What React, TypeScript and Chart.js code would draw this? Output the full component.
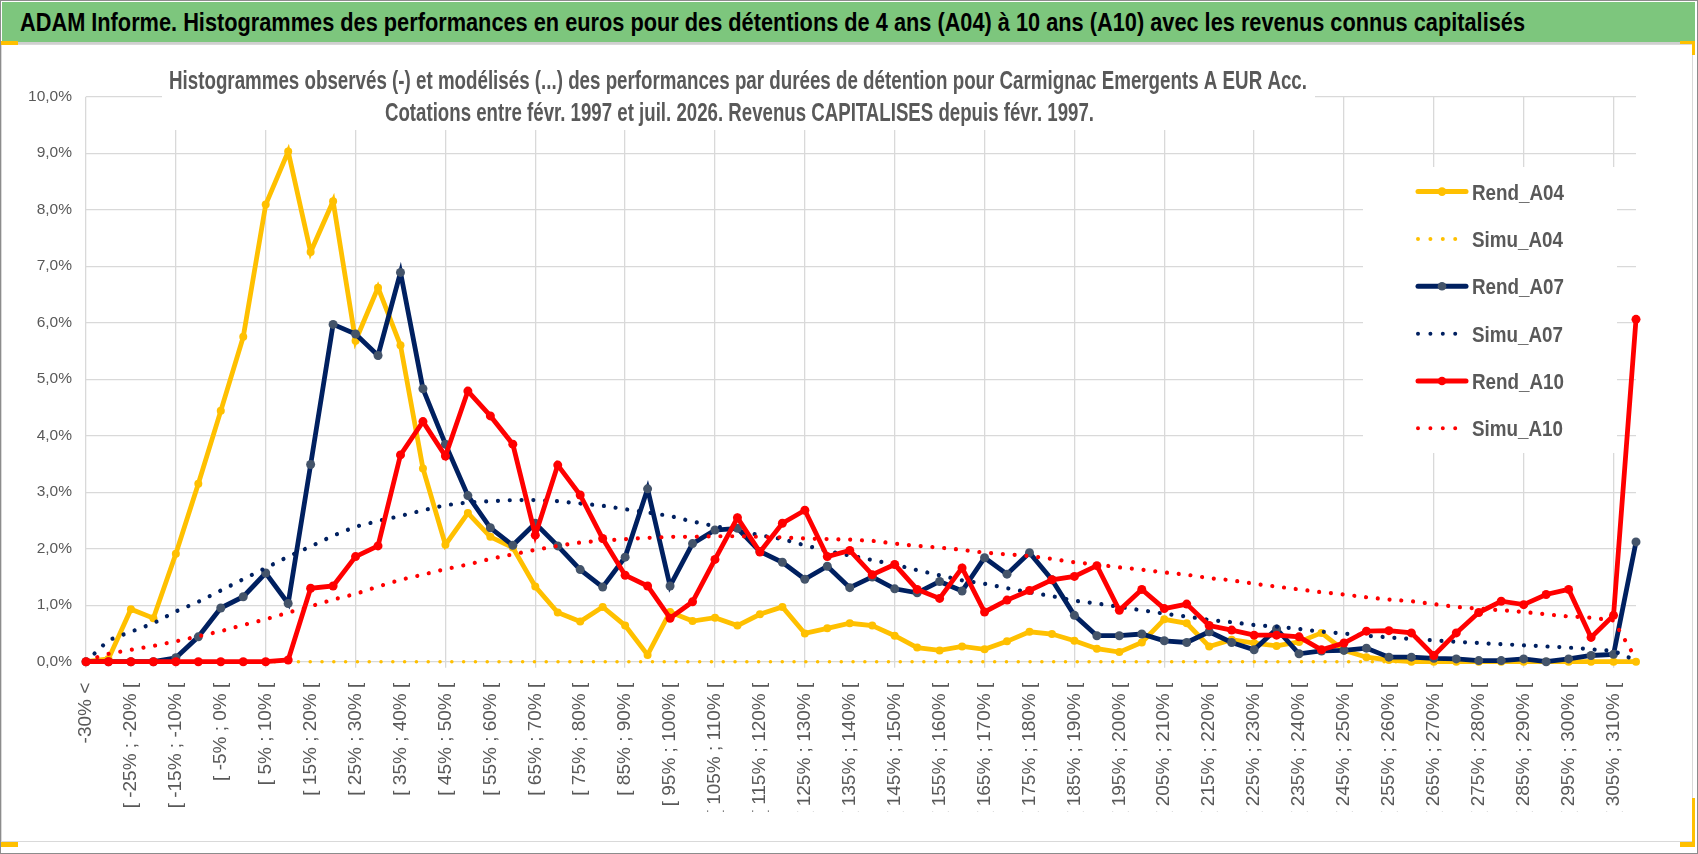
import React, { useEffect, useRef } from "react";
import { Chart, registerables } from "chart.js";

Chart.register(...registerables);

const categories: string[] = [
  "-30% <",
  "[ -30% ; -25% [", "[ -25% ; -20% [", "[ -20% ; -15% [", "[ -15% ; -10% [", "[ -10% ; -5% [",
  "[ -5% ; 0% [", "[ 0% ; 5% [", "[ 5% ; 10% [", "[ 10% ; 15% [", "[ 15% ; 20% [",
  "[ 20% ; 25% [", "[ 25% ; 30% [", "[ 30% ; 35% [", "[ 35% ; 40% [", "[ 40% ; 45% [",
  "[ 45% ; 50% [", "[ 50% ; 55% [", "[ 55% ; 60% [", "[ 60% ; 65% [", "[ 65% ; 70% [",
  "[ 70% ; 75% [", "[ 75% ; 80% [", "[ 80% ; 85% [", "[ 85% ; 90% [", "[ 90% ; 95% [",
  "[ 95% ; 100% [", "[ 100% ; 105% [", "[ 105% ; 110% [", "[ 110% ; 115% [", "[ 115% ; 120% [",
  "[ 120% ; 125% [", "[ 125% ; 130% [", "[ 130% ; 135% [", "[ 135% ; 140% [", "[ 140% ; 145% [",
  "[ 145% ; 150% [", "[ 150% ; 155% [", "[ 155% ; 160% [", "[ 160% ; 165% [", "[ 165% ; 170% [",
  "[ 170% ; 175% [", "[ 175% ; 180% [", "[ 180% ; 185% [", "[ 185% ; 190% [", "[ 190% ; 195% [",
  "[ 195% ; 200% [", "[ 200% ; 205% [", "[ 205% ; 210% [", "[ 210% ; 215% [", "[ 215% ; 220% [",
  "[ 220% ; 225% [", "[ 225% ; 230% [", "[ 230% ; 235% [", "[ 235% ; 240% [", "[ 240% ; 245% [",
  "[ 245% ; 250% [", "[ 250% ; 255% [", "[ 255% ; 260% [", "[ 260% ; 265% [", "[ 265% ; 270% [",
  "[ 270% ; 275% [", "[ 275% ; 280% [", "[ 280% ; 285% [", "[ 285% ; 290% [", "[ 290% ; 295% [",
  "[ 295% ; 300% [", "[ 300% ; 305% [", "[ 305% ; 310% [",
  "310% >",
];

const rendA04: number[] = [
  0, 0.05, 0.93, 0.77, 1.91, 3.15, 4.44, 5.75, 8.09, 9.03,
  7.25, 8.15, 5.68, 6.62, 5.6, 3.42, 2.07, 2.63, 2.21, 2.02,
  1.33, 0.87, 0.71, 0.97, 0.64, 0.12, 0.88, 0.72, 0.78, 0.64,
  0.84, 0.97, 0.5, 0.59, 0.68, 0.64, 0.46, 0.25, 0.2, 0.27,
  0.22, 0.36, 0.53, 0.49, 0.37, 0.23, 0.17, 0.34, 0.75, 0.68,
  0.27, 0.39, 0.33, 0.28, 0.35, 0.51, 0.2, 0.08, 0.03, 0,
  0, 0, 0, 0, 0, 0, 0, 0, 0, 0,
];

const simuA04: number[] = [
  0, 0, 0, 0, 0, 0, 0, 0, 0, 0,
  0, 0, 0, 0, 0, 0, 0, 0, 0, 0,
  0, 0, 0, 0, 0, 0, 0, 0, 0, 0,
  0, 0, 0, 0, 0, 0, 0, 0, 0, 0,
  0, 0, 0, 0, 0, 0, 0, 0, 0, 0,
  0, 0, 0, 0, 0, 0, 0, 0, 0, 0,
  0, 0, 0, 0, 0, 0, 0, 0, 0, 0,
];

const rendA07: number[] = [
  0, 0, 0, 0, 0.07, 0.44, 0.95, 1.15, 1.57, 1.03,
  3.49, 5.97, 5.8, 5.42, 6.89, 4.83, 3.85, 2.94, 2.37, 2.06,
  2.45, 2.05, 1.63, 1.32, 1.85, 3.06, 1.34, 2.09, 2.33, 2.36,
  1.95, 1.76, 1.46, 1.69, 1.31, 1.5, 1.29, 1.22, 1.42, 1.25,
  1.84, 1.55, 1.93, 1.45, 0.82, 0.46, 0.46, 0.49, 0.37, 0.34,
  0.53, 0.34, 0.21, 0.58, 0.14, 0.19, 0.2, 0.24, 0.08, 0.08,
  0.06, 0.05, 0.02, 0.02, 0.05, 0.0, 0.05, 0.11, 0.13, 2.12,
];

const simuA07: number[] = [
  0, 0.38, 0.53, 0.68, 0.89, 1.06, 1.26, 1.46, 1.66, 1.86,
  2.04, 2.23, 2.39, 2.49, 2.58, 2.68, 2.77, 2.82, 2.84, 2.86,
  2.86, 2.84, 2.8, 2.76, 2.7, 2.64, 2.58, 2.48, 2.4, 2.32,
  2.24, 2.17, 2.06, 1.96, 1.88, 1.8, 1.72, 1.62, 1.53, 1.44,
  1.38, 1.3, 1.23, 1.16, 1.08, 1.03, 0.97, 0.91, 0.85, 0.8,
  0.74, 0.7, 0.65, 0.62, 0.58, 0.53, 0.5, 0.46, 0.43, 0.4,
  0.38, 0.35, 0.33, 0.31, 0.29, 0.27, 0.25, 0.22, 0.19, 0.02,
];

const rendA10: number[] = [
  0, 0, 0, 0, 0, 0, 0, 0, 0, 0.03,
  1.3, 1.34, 1.86, 2.05, 3.66, 4.25, 3.64, 4.79, 4.35, 3.85,
  2.24, 3.48, 2.95, 2.18, 1.53, 1.34, 0.77, 1.06, 1.81, 2.55,
  1.94, 2.45, 2.68, 1.86, 1.97, 1.54, 1.72, 1.28, 1.12, 1.66,
  0.88, 1.09, 1.26, 1.45, 1.51, 1.7, 0.91, 1.28, 0.94, 1.02,
  0.64, 0.56, 0.47, 0.47, 0.44, 0.21, 0.33, 0.54, 0.55, 0.51,
  0.11, 0.51, 0.87, 1.07, 1.01, 1.19, 1.28, 0.43, 0.82, 6.06,
];

const simuA10: number[] = [
  0.02, 0.14, 0.21, 0.28, 0.36, 0.45, 0.54, 0.65, 0.75, 0.87,
  0.98, 1.1, 1.2, 1.33, 1.45, 1.54, 1.64, 1.72, 1.82, 1.9,
  1.98, 2.05, 2.11, 2.14, 2.17, 2.19, 2.21, 2.21, 2.22, 2.22,
  2.21, 2.2, 2.18, 2.17, 2.16, 2.14, 2.09, 2.05, 2.02, 1.98,
  1.93, 1.9, 1.87, 1.82, 1.76, 1.72, 1.67, 1.63, 1.58, 1.54,
  1.48, 1.44, 1.38, 1.33, 1.28, 1.23, 1.19, 1.14, 1.1, 1.07,
  1.02, 0.97, 0.94, 0.91, 0.88, 0.84, 0.8, 0.78, 0.73, 0.05,
];

const seriesNames = ["Rend_A04", "Simu_A04", "Rend_A07", "Simu_A07", "Rend_A10", "Simu_A10"];

const mainTitle =
  "ADAM Informe. Histogrammes des performances en euros pour des détentions de 4 ans (A04) à 10 ans (A10) avec les revenus connus capitalisés";
const subTitle1 =
  "Histogrammes observés (-) et modélisés (...) des performances par durées de détention pour Carmignac Emergents A EUR Acc.";
const subTitle2 = "Cotations entre févr. 1997 et juil. 2026. Revenus CAPITALISES depuis févr. 1997.";

const YELLOW = "#FFC000";
const NAVY = "#002060";
const NAVY_MARK = "#44546A";
const RED = "#FF0000";
const GRID = "#D9D9D9";
const TXT = "#595959";
const FONT = '"Liberation Sans", Arial, sans-serif';
const DOT_DASH = [0.001, 11.8];

function fitText(ctx: CanvasRenderingContext2D, text: string, x: number, y: number, sx: number) {
  ctx.save();
  ctx.translate(x, y);
  ctx.scale(sx, 1);
  ctx.fillText(text, 0, 0);
  ctx.restore();
}

const overlayPlugin = {
  id: "overlayBoxes",
  beforeDatasetsDraw(chart: any) {
    const ctx: CanvasRenderingContext2D = chart.ctx;
    ctx.save();
    // chart title box (covers the grid like the source's title frame)
    ctx.fillStyle = "#ffffff";
    ctx.fillRect(162, 48, 1153, 82);
    ctx.fillStyle = TXT;
    ctx.font = `bold 25px ${FONT}`;
    ctx.textAlign = "left";
    ctx.textBaseline = "alphabetic";
    const w1 = ctx.measureText(subTitle1).width;
    fitText(ctx, subTitle1, 169, 88.5, 1138 / w1);
    const w2 = ctx.measureText(subTitle2).width;
    fitText(ctx, subTitle2, 385, 120.5, 709 / w2);

    // legend box
    ctx.fillStyle = "#ffffff";
    ctx.fillRect(1363, 167, 254, 286);
    const ds = chart.data.datasets;
    ctx.font = `bold 22px ${FONT}`;
    const ref = ctx.measureText("Rend_A04").width;
    const s = 92 / ref;
    for (let i = 0; i < ds.length; i++) {
      const d = ds[i];
      const y = 191.6 + i * 47.35;
      const isDotted = d.borderDash && d.borderDash.length;
      ctx.save();
      ctx.strokeStyle = d.borderColor;
      ctx.lineCap = "round";
      if (isDotted) {
        ctx.lineWidth = 4;
        ctx.setLineDash([0.001, 12.4]);
      } else {
        ctx.lineWidth = 5;
        ctx.setLineDash([]);
      }
      ctx.beginPath();
      ctx.moveTo(1418, y);
      ctx.lineTo(1466, y);
      ctx.stroke();
      if (!isDotted) {
        ctx.fillStyle = d.pointBackgroundColor;
        ctx.beginPath();
        ctx.arc(1442, y, 4.3, 0, Math.PI * 2);
        ctx.fill();
      }
      ctx.restore();
      ctx.fillStyle = TXT;
      ctx.textBaseline = "alphabetic";
      fitText(ctx, d.label, 1472, y + 8, s);
    }
    ctx.restore();
  },
};

function solid(label: string, data: number[], color: string, mark: string, order: number, r: number) {
  return {
    label,
    data,
    borderColor: color,
    backgroundColor: color,
    borderWidth: 4.8,
    pointRadius: r,
    pointBackgroundColor: mark,
    pointBorderColor: mark,
    pointBorderWidth: 0,
    tension: 0,
    clip: false as const,
    order,
  };
}

function dotted(label: string, data: number[], color: string, order: number, width: number) {
  return {
    label,
    data,
    borderColor: color,
    backgroundColor: color,
    borderWidth: width,
    borderDash: DOT_DASH,
    borderCapStyle: "round" as const,
    pointRadius: 0,
    tension: 0,
    clip: false as const,
    order,
  };
}

export default function App() {
  const canvasRef = useRef<HTMLCanvasElement>(null);
  const titleRef = useRef<HTMLSpanElement>(null);

  useEffect(() => {
    const span = titleRef.current;
    if (span) {
      span.style.transform = "none";
      const w = span.getBoundingClientRect().width;
      if (w > 0) span.style.transform = `scaleX(${1505 / w})`;
    }
    const canvas = canvasRef.current;
    if (!canvas) return;
    const chart = new Chart(canvas, {
      type: "line",
      data: {
        labels: categories,
        datasets: [
          solid(seriesNames[0], rendA04, YELLOW, YELLOW, 6, 4),
          dotted(seriesNames[1], simuA04, YELLOW, 5, 3.6),
          solid(seriesNames[2], rendA07, NAVY, NAVY_MARK, 4, 4.5),
          dotted(seriesNames[3], simuA07, NAVY, 3, 4.2),
          solid(seriesNames[4], rendA10, RED, RED, 2, 4.5),
          dotted(seriesNames[5], simuA10, RED, 1, 4.2),
        ] as any,
      },
      options: {
        responsive: false,
        maintainAspectRatio: false,
        animation: false,
        layout: { padding: { left: 0, right: 62, top: 96.7, bottom: 42.3 } },
        plugins: {
          legend: { display: false },
          title: { display: false },
          tooltip: { enabled: false },
        },
        scales: {
          x: {
            type: "category",
            offset: false,
            border: { display: false },
            grid: {
              color: (c: any) => (c.index % 4 === 0 ? GRID : "rgba(0,0,0,0)"),
              tickColor: (c: any) => (c.index % 4 === 0 ? GRID : "rgba(0,0,0,0)"),
              lineWidth: 1.3,
              drawTicks: true,
              tickLength: 6,
            },
            ticks: {
              autoSkip: false,
              minRotation: 90,
              maxRotation: 90,
              padding: 15,
              color: TXT,
              font: { family: FONT, size: 19 },
              callback: (_v: any, i: number) => (i % 2 === 0 ? categories[i] : ""),
            },
            afterFit: (s: any) => {
              s.height = 150;
            },
          },
          y: {
            min: 0,
            max: 10,
            border: { display: false },
            grid: { color: GRID, lineWidth: 1.3, drawTicks: false },
            ticks: {
              stepSize: 1,
              padding: 14,
              color: TXT,
              font: { family: FONT, size: 15.5 },
              callback: (v: any) => Number(v).toFixed(1).replace(".", ",") + "%",
            },
            afterFit: (s: any) => {
              s.width = 86;
            },
          },
        },
      } as any,
      plugins: [overlayPlugin],
    });
    return () => chart.destroy();
  }, []);

  const abs = (l: number, t: number, w: number, h: number, bg: string): React.CSSProperties => ({
    position: "absolute",
    left: l,
    top: t,
    width: w,
    height: h,
    background: bg,
  });

  return (
    <div
      style={{
        position: "fixed",
        left: 0,
        top: 0,
        width: 1698,
        height: 854,
        background: "#ffffff",
        overflow: "hidden",
      }}
    >
      <div
        style={{
          position: "absolute",
          left: 1,
          top: 44,
          width: 1692,
          height: 798,
          boxSizing: "border-box",
          border: "1px solid #D9D9D9",
        }}
      />
      <canvas
        ref={canvasRef}
        width={1698}
        height={854}
        style={{ position: "absolute", left: 0, top: 0, width: 1698, height: 854 }}
      />
      <div style={abs(2, 2, 1693, 40, "#7DC67D")}>
        <span
          ref={titleRef}
          style={{
            position: "absolute",
            left: 18,
            top: 0,
            lineHeight: "40px",
            fontFamily: FONT,
            fontWeight: 700,
            fontSize: 25,
            whiteSpace: "nowrap",
            color: "#000000",
            transformOrigin: "0 50%",
          }}
        >
          {mainTitle}
        </span>
      </div>
      <div style={abs(1, 42, 1694, 2, "#CFCFCF")} />
      <div style={abs(0, 41, 18, 4, YELLOW)} />
      <div style={abs(1680, 41, 15, 3, YELLOW)} />
      <div style={abs(1692, 41, 3, 14, YELLOW)} />
      <div style={abs(1692, 798, 3, 49, YELLOW)} />
      <div style={abs(1680, 842, 15, 5, YELLOW)} />
      <div style={abs(0, 842, 18, 5, YELLOW)} />
      <div
        style={{
          position: "absolute",
          left: 0,
          top: 0,
          width: 1698,
          height: 854,
          boxSizing: "border-box",
          border: "1.5px solid #8C8C8C",
          pointerEvents: "none",
        }}
      />
    </div>
  );
}
